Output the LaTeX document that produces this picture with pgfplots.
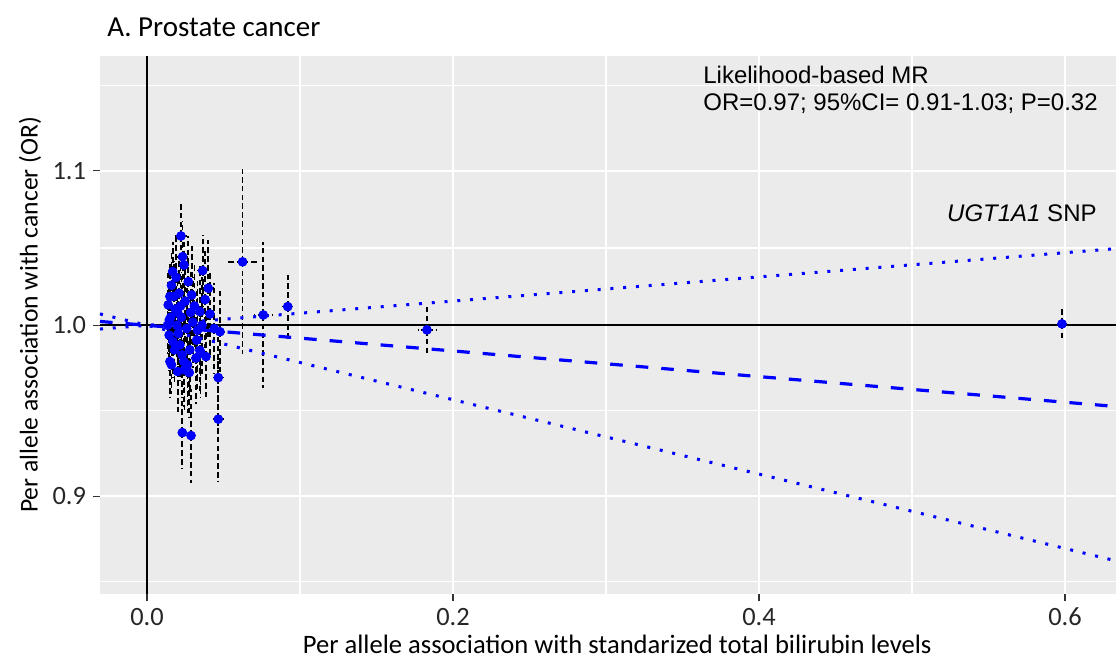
\documentclass[border=0pt]{standalone}
\usepackage{fontspec}
\setmainfont{Carlito}
\newfontfamily\arialf{Liberation Sans}
\usepackage{pgfplots}
\usepackage{pgfplotstable}
\pgfplotsset{compat=1.18}
\definecolor{panelbg}{HTML}{EBEBEB}
\definecolor{tickgray}{HTML}{333333}

% SNP estimates: x = bilirubin effect, ex = its CI half-width,
% y = OR for cancer with lower/upper 95% limits
\pgfplotstableread{
x      ex     y       ylo     yhi
0.0222 0.004  1.0566  1.0357  1.0779
0.0233 0.004  1.0432  1.0205  1.0664
0.0242 0.003  1.0379  1.0173  1.0589
0.0168 0.003  1.0337  1.0153  1.0525
0.0364 0.004  1.0343  1.0118  1.0573
0.0401 0.004  1.0231  0.9929  1.0543
0.0625 0.0103 1.0399  0.9823  1.1009
0.0760 0.0059 1.0064  0.9621  1.0527
0.0920 0.0045 1.0116  0.9901  1.0336
0.0477 0.003  0.9961  0.9705  1.0223
0.0466 0.004  0.9683  0.9397  0.9978
0.0466 0.004  0.9438  0.9077  0.9813
0.0231 0.003  0.9360  0.9156  0.9568
0.0288 0.003  0.9343  0.9076  0.9618
0.0276 0.003  0.9713  0.9445  0.9989
0.0201 0.003  0.9719  0.9479  0.9965
0.0150 0.003  0.9779  0.9566  0.9997
0.0386 0.003  0.9809  0.9567  1.0057
0.0325 0.003  0.9910  0.9617  1.0212
0.0346 0.003  1.0085  0.9807  1.0371
0.0412 0.003  1.0070  0.9821  1.0325
0.0292 0.003  1.0189  0.9888  1.0499
0.0270 0.003  1.0273  0.9989  1.0565
0.0139 0.003  1.0127  0.9926  1.0332
0.0146 0.003  1.0033  0.9815  1.0256
0.1830 0.006  0.9972  0.9833  1.0113
0.5980 0.003  1.0009  0.9904  1.0115
0.0160 0.003  1.0250  1.0047  1.0457
0.0175 0.003  1.0180  0.9958  1.0406
0.0185 0.003  1.0100  0.9851  1.0356
0.0195 0.003  1.0000  0.9802  1.0202
0.0205 0.003  0.9950  0.9704  1.0202
0.0215 0.003  0.9880  0.9665  1.0100
0.0225 0.003  1.0050  0.9772  1.0335
0.0250 0.003  1.0150  0.9899  1.0407
0.0260 0.003  0.9980  0.9685  1.0284
0.0280 0.003  0.9850  0.9607  1.0099
0.0300 0.003  1.0020  0.9743  1.0305
0.0310 0.003  1.0120  0.9860  1.0387
0.0330 0.003  0.9970  0.9675  1.0274
0.0350 0.003  0.9830  0.9559  1.0109
0.0170 0.003  0.9900  0.9685  1.0120
0.0155 0.003  1.0050  0.9851  1.0253
0.0145 0.003  0.9940  0.9724  1.0161
0.0190 0.003  1.0300  1.0046  1.0561
0.0210 0.003  1.0200  0.9978  1.0427
0.0240 0.003  0.9780  0.9510  1.0058
0.0230 0.003  0.9820  0.9578  1.0069
0.0265 0.003  0.9760  0.9472  1.0057
0.0320 0.003  0.9800  0.9529  1.0078
0.0180 0.003  0.9850  0.9655  1.0049
0.0200 0.003  1.0080  0.9880  1.0284
0.0220 0.003  1.0120  0.9870  1.0376
0.0285 0.003  1.0080  0.9821  1.0345
0.0360 0.003  1.0000  0.9704  1.0305
0.0160 0.003  0.9760  0.9586  0.9937
0.0245 0.003  0.9730  0.9490  0.9976
0.0135 0.003  1.0000  0.9822  1.0182
0.0380 0.003  1.0160  0.9860  1.0469
0.0440 0.003  0.9980  0.9704  1.0263
0.0150 0.003  1.0180  0.9977  1.0386
0.0346 0.003  0.9847  0.9600  1.0100
}\snps

\begin{document}
\begin{tikzpicture}
\begin{axis}[
  width=508pt, height=269pt, scale only axis,
  ymode=log,
  xmin=-0.0307, xmax=0.6333,
  ymin=0.8474, ymax=1.1806,
  axis background/.style={fill=panelbg},
  axis line style={draw=none},
  xtick={0,0.2,0.4,0.6}, xticklabels={0.0,0.2,0.4,0.6},
  minor xtick={0.1,0.3,0.5},
  ytick={0.9,1,1.1}, yticklabels={0.9,1.0,1.1},
  minor ytick={0.8538,0.9487,1.0488,1.1596},
  grid=both,
  major grid style={white, line width=1.1pt},
  minor grid style={white, line width=0.55pt},
  tick align=outside, xtick pos=bottom, ytick pos=left,
  major tick length=3.5pt, minor tick length=0pt,
  tick style={tickgray, line width=0.55pt},
  tick label style={font=\fontsize{13.2}{15}\selectfont, text=black!85},
  clip=false,
]
% confidence intervals of the SNP estimates
\addplot[only marks, mark=none,
  error bars/.cd, x dir=both, y dir=both, x explicit, y explicit, error mark=none,
  error bar style={black, line width=0.85pt, dash pattern=on 2.8pt off 1.6pt}]
  table[x=x, y=y, x error=ex,
        y error plus expr=\thisrow{yhi}-\thisrow{y},
        y error minus expr=\thisrow{y}-\thisrow{ylo}]{\snps};
% SNP points
\addplot[only marks, mark=*, mark size=2.2pt, color=blue, mark options={draw=blue, fill=blue}]
  table[x=x, y=y]{\snps};

% reference lines
\addplot[black, line width=1pt] coordinates {(-0.0307,1) (0.6333,1)};
\addplot[black, line width=1pt] coordinates {(0,0.8474) (0,1.1806)};

% likelihood-based MR estimate and its 95% CI
\addplot[blue, line width=1.6pt, dash pattern=on 6.3pt off 6.5pt]
  coordinates {(-0.0307,1.0024) (0,1) (0.6333,0.9512)};
\addplot[blue, line width=1.5pt, line cap=butt, dash pattern=on 1.5pt off 4.9pt]
  coordinates {(-0.0307,0.99771) (0,1) (0.6333,1.0484)};
\addplot[blue, line width=1.5pt, line cap=butt, dash pattern=on 1.5pt off 4.9pt]
  coordinates {(-0.0307,1.00706) (0,1) (0.6333,0.8649)};

% texts
\node[anchor=base west, inner sep=0pt, font=\fontsize{14.5}{17}\selectfont]
  at ([xshift=3.5pt, yshift=9.5pt]rel axis cs:0,1) {A. Prostate cancer};
\node[anchor=base west, inner sep=0pt, font=\arialf\fontsize{12}{14}\selectfont]
  at (rel axis cs:0.5935,0.948) {Likelihood-based MR};
\node[anchor=base west, inner sep=0pt, font=\arialf\fontsize{12}{14}\selectfont]
  at (rel axis cs:0.5935,0.8996) {OR=0.97; 95\%CI= 0.91-1.03; P=0.32};
\node[anchor=base east, inner sep=0pt, font=\arialf\fontsize{12}{14}\selectfont]
  at (rel axis cs:0.9813,0.6933) {\textit{UGT1A1} SNP};
\node[anchor=base, inner sep=0pt, font=\fontsize{13.3}{15}\selectfont]
  at ([yshift=-30pt]rel axis cs:0.509,0) {Per allele association with standarized total bilirubin levels};
\node[rotate=90, anchor=center, inner sep=0pt, font=\fontsize{12.8}{15}\selectfont]
  at ([xshift=-35pt]rel axis cs:0,0.5186) {Per allele association with cancer (OR)};

\coordinate (pbl) at (rel axis cs:0,0);
\coordinate (ptr) at (rel axis cs:1,1);
\end{axis}
\pgfresetboundingbox
\useasboundingbox ([xshift=-50pt, yshift=-32.5pt]pbl) rectangle ([yshift=28pt]ptr);
\end{tikzpicture}
\end{document}
